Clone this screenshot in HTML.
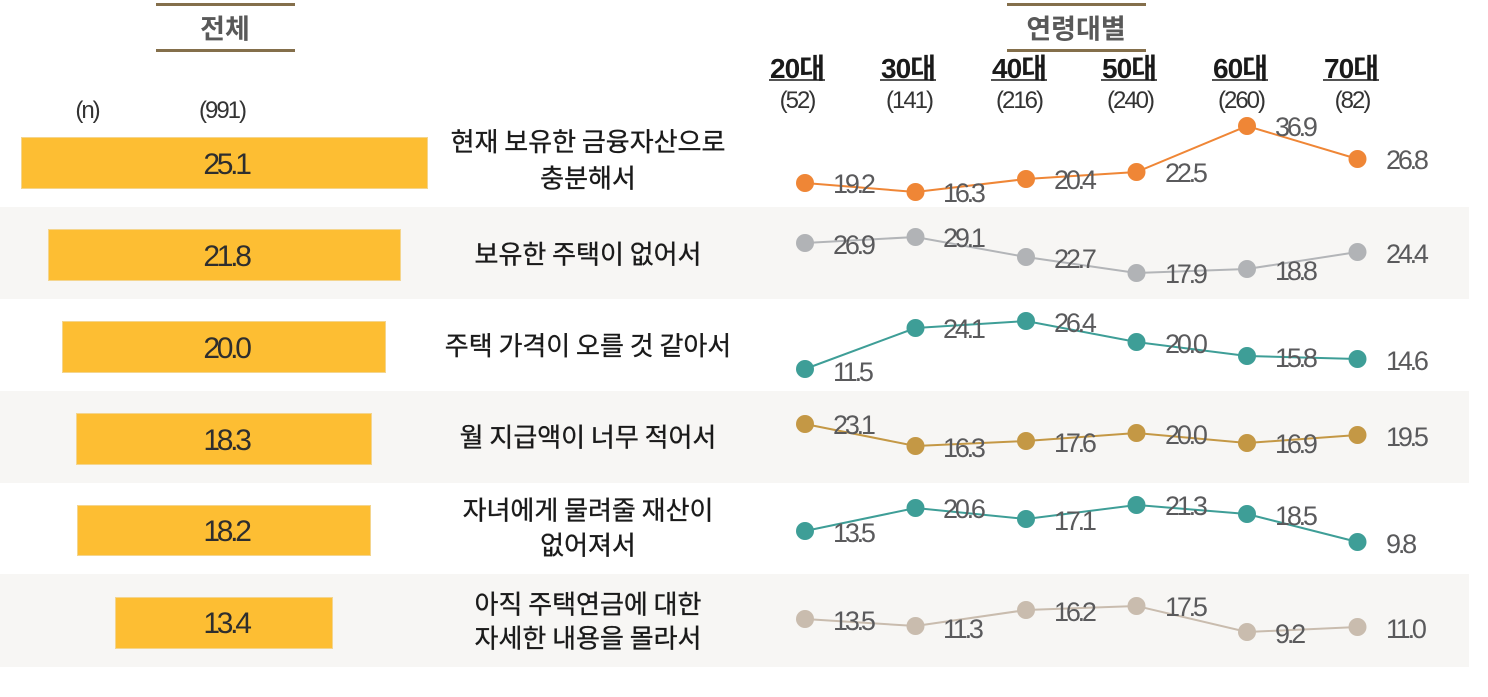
<!DOCTYPE html>
<html><head><meta charset="utf-8"><style>
html,body{margin:0;padding:0;background:#fff;}
svg{display:block;}
.kr{font-family:"Noto Sans CJK KR","Liberation Sans",sans-serif;}
.num{font-family:"Liberation Sans","Noto Sans CJK KR",sans-serif;}
</style></head><body>
<svg width="1488" height="697" viewBox="0 0 1488 697" xmlns="http://www.w3.org/2000/svg">
<!-- bands -->
<rect x="0" y="207" width="1469" height="92" fill="#f7f6f4"/>
<rect x="0" y="391" width="1469" height="92" fill="#f7f6f4"/>
<rect x="0" y="574" width="1469" height="93" fill="#f7f6f4"/>

<!-- header titles -->
<rect x="156" y="3" width="139" height="3" fill="#846f4b"/>
<rect x="156" y="49" width="139" height="3" fill="#846f4b"/>
<text x="225" y="38.5" text-anchor="middle" class="kr" font-size="27" font-weight="bold" fill="#595959">전체</text>
<rect x="1007" y="3" width="139" height="3" fill="#846f4b"/>
<rect x="1007" y="49" width="139" height="3" fill="#846f4b"/>
<text x="1076" y="38.5" text-anchor="middle" class="kr" font-size="27" font-weight="bold" fill="#595959">연령대별</text>

<g class="num" font-size="24" fill="#333" text-anchor="middle" letter-spacing="-2">
<text x="87" y="118">(n)</text>
<text x="222" y="118">(991)</text>
</g>

<!-- age headers -->
<g font-family="Liberation Sans, Noto Sans CJK KR, sans-serif" font-size="28" font-weight="bold" fill="#1a1a1a" text-anchor="middle" letter-spacing="-1">
<text x="797" y="78">20대</text>
<text x="908" y="78">30대</text>
<text x="1019" y="78">40대</text>
<text x="1129" y="78">50대</text>
<text x="1240" y="78">60대</text>
<text x="1351" y="78">70대</text>
</g>
<g stroke="#1a1a1a" stroke-width="1.6">
<line x1="769" y1="80" x2="825" y2="80"/>
<line x1="880" y1="80" x2="936" y2="80"/>
<line x1="991" y1="80" x2="1047" y2="80"/>
<line x1="1101" y1="80" x2="1157" y2="80"/>
<line x1="1212" y1="80" x2="1268" y2="80"/>
<line x1="1323" y1="80" x2="1379" y2="80"/>
</g>
<g class="num" font-size="24" fill="#333" text-anchor="middle" letter-spacing="-2">
<text x="797" y="108">(52)</text>
<text x="909" y="108">(141)</text>
<text x="1019" y="108">(216)</text>
<text x="1130" y="108">(240)</text>
<text x="1241" y="108">(260)</text>
<text x="1352" y="108">(82)</text>
</g>

<!-- bars -->
<g fill="#fdbe33" stroke="#f4d58e" stroke-width="1">
<rect x="21.5" y="137.5" width="406" height="51"/>
<rect x="48.5" y="229.5" width="352" height="51"/>
<rect x="62.5" y="321.5" width="323" height="51"/>
<rect x="76.5" y="413.5" width="295" height="51"/>
<rect x="77.5" y="505.5" width="293" height="50"/>
<rect x="115.5" y="597.5" width="217" height="51"/>
</g>
<g class="num" font-size="30" fill="#2e2e2e" text-anchor="middle" letter-spacing="-3.3">
<text x="226" y="174">25.1</text>
<text x="226" y="266">21.8</text>
<text x="226" y="358">20.0</text>
<text x="226" y="450">18.3</text>
<text x="226" y="541">18.2</text>
<text x="226" y="633">13.4</text>
</g>

<!-- row labels -->
<g class="kr" font-size="26" fill="#1a1a1a" stroke="#1a1a1a" stroke-width="0.35" text-anchor="middle">
<text x="588" y="151">현재 보유한 금융자산으로</text>
<text x="588" y="187.5">충분해서</text>
<text x="588" y="263.5">보유한 주택이 없어서</text>
<text x="588" y="355">주택 가격이 오를 것 같아서</text>
<text x="588" y="446.5">월 지급액이 너무 적어서</text>
<text x="588" y="519.5">자녀에게 물려줄 재산이</text>
<text x="588" y="554.5">없어져서</text>
<text x="588" y="613.5">아직 주택연금에 대한</text>
<text x="588" y="647.5">자세한 내용을 몰라서</text>
</g>

<!-- series -->
<g stroke-width="2" fill="none">
<polyline stroke="#ef8636" points="805,183 915.5,192 1026,179 1136.5,172 1247,126 1357.5,159"/>
<polyline stroke="#b3b5b8" points="805,243 915.5,237 1026,257 1136.5,273 1247,269 1357.5,252"/>
<polyline stroke="#3e9e97" points="805,369 915.5,328 1026,321 1136.5,342 1247,356 1357.5,359"/>
<polyline stroke="#c49845" points="805,424 915.5,446 1026,441 1136.5,433 1247,443 1357.5,435"/>
<polyline stroke="#3e9e97" points="805,531 915.5,508 1026,519 1136.5,505 1247,514 1357.5,542"/>
<polyline stroke="#c9bcae" points="805,619 915.5,626 1026,610 1136.5,606 1247,632 1357.5,627"/>
</g>
<g fill="#ef8636">
<circle cx="805" cy="183" r="9"/><circle cx="915.5" cy="192" r="9"/><circle cx="1026" cy="179" r="9"/><circle cx="1136.5" cy="172" r="9"/><circle cx="1247" cy="126" r="9"/><circle cx="1357.5" cy="159" r="9"/>
</g>
<g fill="#b1b3b6">
<circle cx="805" cy="243" r="9"/><circle cx="915.5" cy="237" r="9"/><circle cx="1026" cy="257" r="9"/><circle cx="1136.5" cy="273" r="9"/><circle cx="1247" cy="269" r="9"/><circle cx="1357.5" cy="252" r="9"/>
</g>
<g fill="#3e9e97">
<circle cx="805" cy="369" r="9"/><circle cx="915.5" cy="328" r="9"/><circle cx="1026" cy="321" r="9"/><circle cx="1136.5" cy="342" r="9"/><circle cx="1247" cy="356" r="9"/><circle cx="1357.5" cy="359" r="9"/>
</g>
<g fill="#c49845">
<circle cx="805" cy="424" r="9"/><circle cx="915.5" cy="446" r="9"/><circle cx="1026" cy="441" r="9"/><circle cx="1136.5" cy="433" r="9"/><circle cx="1247" cy="443" r="9"/><circle cx="1357.5" cy="435" r="9"/>
</g>
<g fill="#3e9e97">
<circle cx="805" cy="531" r="9"/><circle cx="915.5" cy="508" r="9"/><circle cx="1026" cy="519" r="9"/><circle cx="1136.5" cy="505" r="9"/><circle cx="1247" cy="514" r="9"/><circle cx="1357.5" cy="542" r="9"/>
</g>
<g fill="#c9bcae">
<circle cx="805" cy="619" r="9"/><circle cx="915.5" cy="626" r="9"/><circle cx="1026" cy="610" r="9"/><circle cx="1136.5" cy="606" r="9"/><circle cx="1247" cy="632" r="9"/><circle cx="1357.5" cy="627" r="9"/>
</g>

<!-- value labels -->
<g class="num" font-size="27" fill="#5a5a5c" letter-spacing="-3.2">
<text x="833" y="193">19.2</text><text x="943" y="202">16.3</text><text x="1054" y="189">20.4</text><text x="1165" y="182">22.5</text><text x="1275" y="136">36.9</text><text x="1386" y="169">26.8</text>
<text x="833" y="254">26.9</text><text x="943" y="247">29.1</text><text x="1054" y="268">22.7</text><text x="1165" y="283">17.9</text><text x="1275" y="280">18.8</text><text x="1386" y="263">24.4</text>
<text x="833" y="381">11.5</text><text x="943" y="338">24.1</text><text x="1054" y="332">26.4</text><text x="1165" y="353">20.0</text><text x="1275" y="367">15.8</text><text x="1386" y="370">14.6</text>
<text x="833" y="434">23.1</text><text x="943" y="457">16.3</text><text x="1054" y="452">17.6</text><text x="1165" y="444">20.0</text><text x="1275" y="453">16.9</text><text x="1386" y="446">19.5</text>
<text x="833" y="542">13.5</text><text x="943" y="518">20.6</text><text x="1054" y="530">17.1</text><text x="1165" y="515">21.3</text><text x="1275" y="525">18.5</text><text x="1386" y="553">9.8</text>
<text x="833" y="630">13.5</text><text x="943" y="638">11.3</text><text x="1054" y="621">16.2</text><text x="1165" y="616">17.5</text><text x="1275" y="643">9.2</text><text x="1386" y="638">11.0</text>
</g>
</svg>
</body></html>
